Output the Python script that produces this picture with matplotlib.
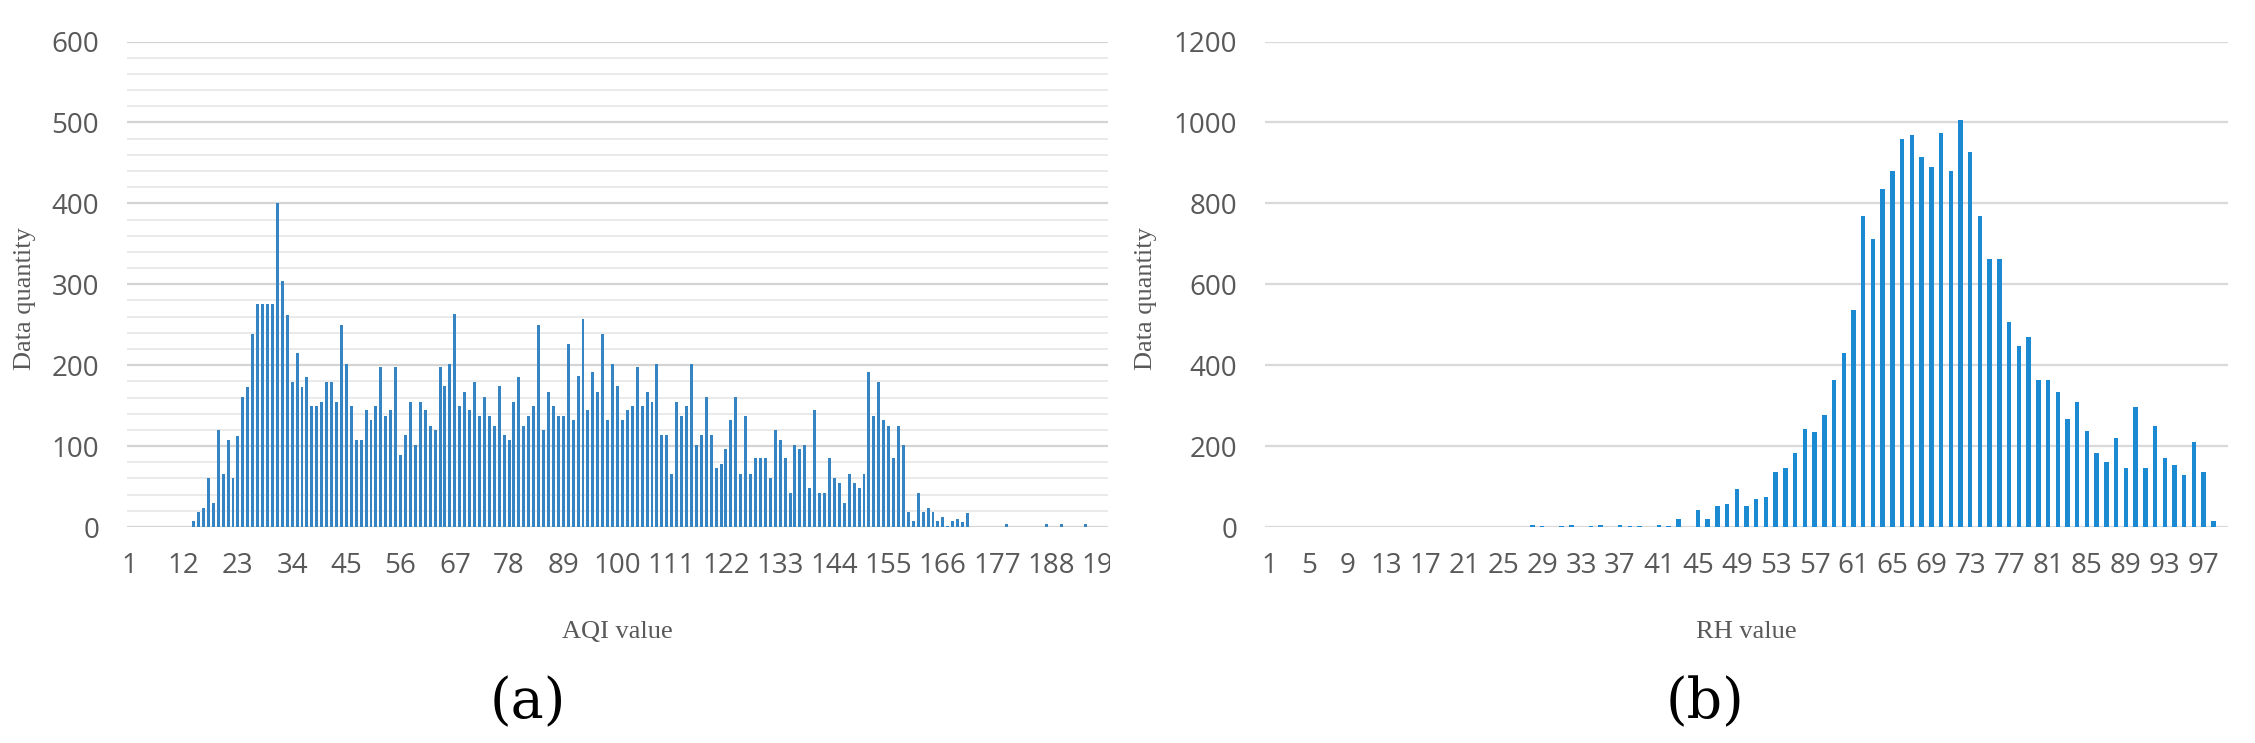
import matplotlib
matplotlib.use("Agg")
import matplotlib.pyplot as plt
from matplotlib.transforms import Bbox
import numpy as np

# AQI histogram (a): categories 1..199
aqi_labels = list(range(1, 200))
aqi_counts = [
    0, 0, 0, 0, 0, 0, 0, 0, 0, 0, 0, 0, 0,
    7, 18, 23, 60, 30, 120, 65, 108, 60, 113, 161, 173, 239, 275, 275, 275, 275,
    400, 304, 262, 179, 215, 173, 185, 149, 149, 155, 179, 179, 155, 250, 202,
    149, 107, 107, 144, 132, 149, 198, 137, 144, 198, 89, 114, 155, 101, 155,
    144, 125, 120, 198, 174, 202, 263, 150, 167, 144, 179, 137, 161, 137, 125,
    174, 114, 108, 155, 185, 125, 137, 150, 250, 120, 167, 150, 137, 137, 226,
    132, 186, 257, 144, 191, 167, 239, 132, 202, 174, 132, 144, 150, 198, 150,
    167, 155, 202, 114, 114, 65, 155, 137, 150, 202, 101, 114, 161, 114, 73,
    78, 96, 132, 161, 65, 137, 65, 85, 85, 85, 60, 120, 108, 85, 42,
    101, 96, 101, 48, 144, 42, 42, 85, 60, 54, 30, 65, 54, 48, 65,
    191, 137, 179, 132, 125, 85, 125, 101, 19, 7, 42, 19, 24, 19, 7,
    12, 1, 7, 10, 6, 17, 0, 0, 0, 0, 0, 0, 0, 4, 0,
    0, 0, 0, 0, 0, 0, 4, 0, 0, 4, 0, 0, 0, 0, 4,
    0, 0, 0, 0,
]
aqi_ticks = list(range(1, 200, 11))

# RH histogram (b): categories 1..99
rh_labels = list(range(1, 100))
rh_counts = [
    0, 0, 0, 0, 0, 0, 0, 0, 0, 0, 0, 0, 0, 0, 0, 0, 0, 0, 0, 0,
    0, 0, 0, 0, 0, 0, 0, 5, 2, 0, 2, 5, 0, 2, 5, 0, 5, 3, 3, 0,
    5, 3, 20, 0, 43, 20, 51, 56, 93, 51, 69, 74, 135, 146, 183, 242, 236, 278, 363, 429,
    536, 769, 712, 836, 879, 960, 968, 914, 890, 974, 879, 1005, 927, 769, 662, 662, 506, 447, 470, 363,
    363, 334, 268, 310, 238, 183, 160, 219, 147, 297, 147, 249, 171, 153, 128, 209, 136, 14, 0,
]
rh_ticks = list(range(1, 100, 4))

W, H = 2255, 743
fig = plt.figure(figsize=(W / 100, H / 100), dpi=100)

tick_col = '#595959'
tick_font = 'Open Sans'
lab_font = 'Liberation Serif'

def style(ax):
    for s in ax.spines.values():
        s.set_visible(False)
    ax.tick_params(axis='both', which='both', length=0, labelsize=20, labelcolor=tick_col)
    ax.tick_params(axis='x', pad=18)
    ax.tick_params(axis='y', pad=20)
    for lab in ax.get_xticklabels() + ax.get_yticklabels():
        lab.set_fontfamily(tick_font)
    ax.set_axisbelow(True)

# panel (a)
ax1 = fig.add_axes([127 / W, 1 - 527 / H, 981 / W, 485.5 / H])
ax1.bar(aqi_labels, aqi_counts, width=0.6, color='#3584c4', zorder=3)
ax1.set_xlim(0.5, 199.5)
ax1.set_ylim(0, 600)
ax1.set_yticks(np.arange(0, 601, 100))
ax1.set_yticks(np.arange(0, 601, 20), minor=True)
ax1.set_xticks(aqi_ticks)
ax1.set_xticklabels([str(t) for t in aqi_ticks])
ax1.grid(axis='y', which='major', color='#d4d4d4', lw=1.6, zorder=0)
ax1.grid(axis='y', which='minor', color='#eaeaea', lw=1.4, zorder=0)
style(ax1)
ax1.set_xlabel('AQI value', family=lab_font, fontsize=19, color=tick_col)
ax1.xaxis.set_label_coords(0.5, -0.194)
# last label is cut at the chart edge in the original
ax1.get_xticklabels()[-1].set_clip_box(Bbox.from_extents(0, 0, 1110, H))
ax1.get_xticklabels()[-1].set_clip_on(True)

# panel (b)
ax2 = fig.add_axes([1265 / W, 1 - 527 / H, 963 / W, 485.5 / H])
ax2.bar(rh_labels, rh_counts, width=0.45, color='#1b8ad3', zorder=3)
ax2.set_xlim(0.5, 99.5)
ax2.set_ylim(0, 1200)
ax2.set_yticks(np.arange(0, 1201, 200))
ax2.set_xticks(rh_ticks)
ax2.set_xticklabels([str(t) for t in rh_ticks])
ax2.grid(axis='y', which='major', color='#d9d9d9', lw=1.6, zorder=0)
style(ax2)
ax2.set_xlabel('RH value', family=lab_font, fontsize=19, color=tick_col)
ax2.xaxis.set_label_coords(0.5, -0.194)

fig.text(25 / W, 1 - 299 / H, 'Data quantity', family=lab_font, fontsize=19,
         color=tick_col, rotation=90, ha='center', va='center')
fig.text(1146 / W, 1 - 299 / H, 'Data quantity', family=lab_font, fontsize=19,
         color=tick_col, rotation=90, ha='center', va='center')

fig.text(528 / W, 1 - 703 / H, '(a)', family='DejaVu Serif', fontsize=40, ha='center', va='center')
fig.text(1705 / W, 1 - 703 / H, '(b)', family='DejaVu Serif', fontsize=40, ha='center', va='center')

fig.savefig('out.png', dpi=100)
